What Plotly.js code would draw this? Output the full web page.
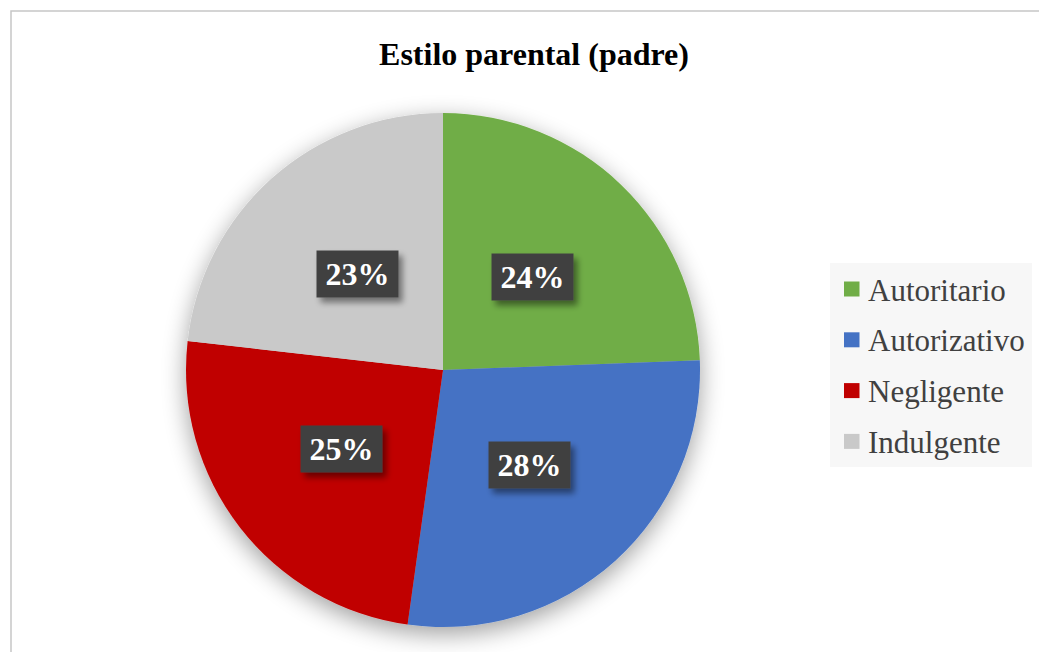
<!DOCTYPE html>
<html>
<head>
<meta charset="utf-8">
<script src="https://cdn.plot.ly/plotly-3.0.1.min.js"></script>
<style>
html,body{margin:0;padding:0;background:#fff;}
#chart{width:1039px;height:652px;}
</style>
</head>
<body>
<div id="chart"></div>
<script>
// ---- data ----
const labels = ["Autoritario", "Autorizativo", "Negligente", "Indulgente"];
const values = [24.4, 27.8, 24.6, 23.2];
const colors = ["#70AD47", "#4472C4", "#C00000", "#C9C9C9"];
const titleText = "Estilo parental (padre)";

// ---- geometry (layout) ----
const W = 1039, H = 652;
const cx = 443, cy = 370, R = 257;
const px = x => x / W;
const py = y => 1 - y / H;
const serif = "Liberation Serif, Times New Roman, serif";

const total = values.reduce((a, b) => a + b, 0);
const annotations = [];
let cum = 0;
values.forEach((v, i) => {
  const mid = (cum + v / 2) / total * 2 * Math.PI;
  cum += v;
  const r = 0.5 * R;
  annotations.push({
    xref: "paper", yref: "paper",
    x: px(cx + r * Math.sin(mid)), y: py(cy - r * Math.cos(mid)),
    xanchor: "center", yanchor: "middle",
    text: Math.round(v / total * 100) + "%",
    showarrow: false,
    font: {family: serif, size: 32, color: "#ffffff", weight: "bold"},
    bgcolor: "#404040",
    width: 77, height: 42, borderpad: 2
  });
});

// manual legend built from the data arrays
const legX = 830, legY0 = 263, legX1 = 1032, legY1 = 467;
const legStart = 289, legStep = 50.8;
const shapes = [
  {type: "rect", xref: "paper", yref: "paper", x0: px(11), x1: 1.05, y0: -0.05, y1: py(11),
   line: {color: "#c6c6c6", width: 1.5}, fillcolor: "rgba(0,0,0,0)", layer: "below"},
  {type: "rect", xref: "paper", yref: "paper", x0: px(legX), x1: px(legX1), y0: py(legY1), y1: py(legY0),
   line: {width: 0}, fillcolor: "#f7f7f7", layer: "below"}
];
labels.forEach((lab, i) => {
  const yc = legStart + i * legStep;
  shapes.push({type: "rect", xref: "paper", yref: "paper",
    x0: px(844), x1: px(859.5), y0: py(yc + 7.5), y1: py(yc - 7.5),
    line: {width: 0}, fillcolor: colors[i]});
  annotations.push({xref: "paper", yref: "paper", x: px(866), y: py(yc + 1),
    xanchor: "left", yanchor: "middle", showarrow: false, text: lab,
    font: {family: serif, size: 31, color: "#404040"}});
});

const data = [{
  type: "pie",
  labels: labels,
  values: values,
  sort: false,
  direction: "clockwise",
  rotation: 0,
  marker: {colors: colors, line: {width: 0}},
  textinfo: "none",
  hoverinfo: "label+percent",
  domain: {x: [px(cx - R), px(cx + R)], y: [py(cy + R), py(cy - R)]},
  showlegend: false
}];

const layout = {
  width: W, height: H,
  margin: {l: 0, r: 0, t: 0, b: 0},
  paper_bgcolor: "#ffffff",
  showlegend: false,
  title: {
    text: titleText,
    x: px(534), xanchor: "center",
    y: py(54), yanchor: "middle",
    font: {family: serif, size: 32, color: "#000000", weight: "bold"}
  },
  shapes: shapes,
  annotations: annotations
};

Plotly.newPlot("chart", data, layout, {displayModeBar: false, staticPlot: true}).then(() => {
  const svg = document.querySelector("#chart .main-svg");
  const ns = "http://www.w3.org/2000/svg";
  let defs = svg.querySelector("defs");
  if (!defs) { defs = document.createElementNS(ns, "defs"); svg.insertBefore(defs, svg.firstChild); }
  defs.insertAdjacentHTML("beforeend",
    '<filter id="pieShadow" x="-25%" y="-25%" width="150%" height="155%">' +
    '<feGaussianBlur in="SourceAlpha" stdDeviation="12"/>' +
    '<feOffset dx="0" dy="7" result="b"/>' +
    '<feComponentTransfer><feFuncA type="linear" slope="0.38"/></feComponentTransfer>' +
    '<feMerge><feMergeNode/><feMergeNode in="SourceGraphic"/></feMerge></filter>' +
    '<filter id="boxShadow" x="-20%" y="-30%" width="150%" height="170%">' +
    '<feGaussianBlur in="SourceAlpha" stdDeviation="3"/>' +
    '<feOffset dx="4" dy="5" result="b"/>' +
    '<feComponentTransfer><feFuncA type="linear" slope="0.45"/></feComponentTransfer>' +
    '<feMerge><feMergeNode/><feMergeNode in="SourceGraphic"/></feMerge></filter>');
  const pl = svg.querySelector(".pielayer");
  if (pl) pl.setAttribute("filter", "url(#pieShadow)");
  document.querySelectorAll("#chart .annotation").forEach((g, i) => {
    if (i < values.length) {
      const s = g.ownerSVGElement;
      if (s !== svg && !s.querySelector("#boxShadow")) {
        let d = s.querySelector("defs");
        if (!d) { d = document.createElementNS(ns, "defs"); s.insertBefore(d, s.firstChild); }
        d.insertAdjacentHTML("beforeend", defs.querySelector("#boxShadow").outerHTML);
      }
      const bg = g.querySelector(".bg");
      if (bg) bg.setAttribute("filter", "url(#boxShadow)");
    }
  });
});
</script>
</body>
</html>
